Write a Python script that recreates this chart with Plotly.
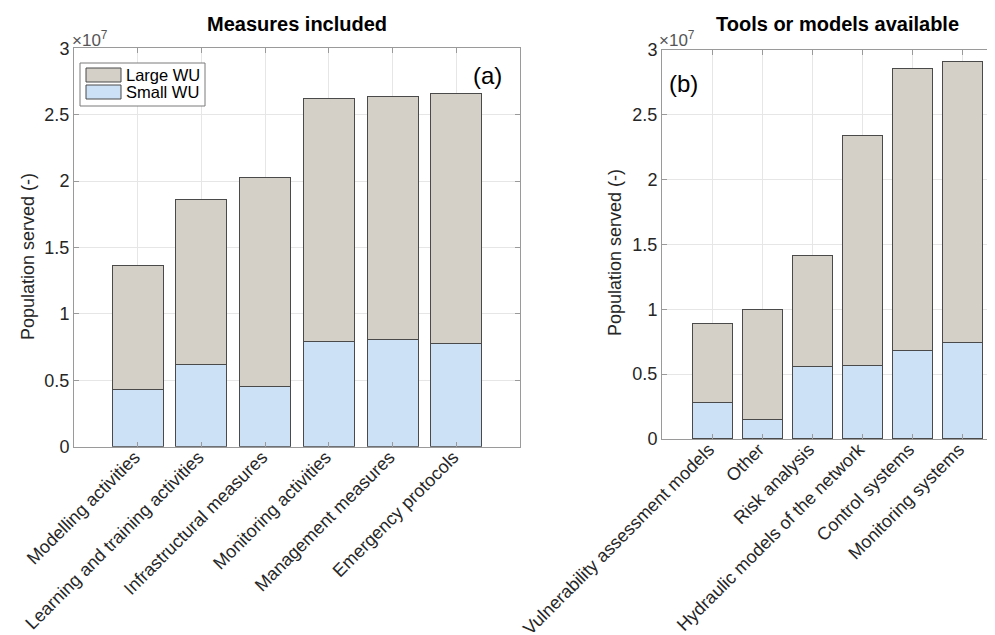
import plotly.graph_objects as go

# ---- data (population served) ----
measures = ["Modelling activities", "Learning and training activities", "Infrastructural measures",
            "Monitoring activities", "Management measures", "Emergency protocols"]
measures_small = [4.34e6, 6.17e6, 4.50e6, 7.90e6, 8.06e6, 7.76e6]
measures_total = [13.66e6, 18.65e6, 20.29e6, 26.20e6, 26.36e6, 26.58e6]

tools = ["Vulnerability assessment models", "Other", "Risk analysis",
         "Hydraulic models of the network", "Control systems", "Monitoring systems"]
tools_small = [2.79e6, 1.52e6, 5.56e6, 5.64e6, 6.82e6, 7.41e6]
tools_total = [8.87e6, 9.95e6, 14.13e6, 23.36e6, 28.54e6, 29.10e6]

ytick_vals = [0, 0.5e7, 1e7, 1.5e7, 2e7, 2.5e7, 3e7]
ytick_text = ["0", "0.5", "1", "1.5", "2", "2.5", "3"]
series_names = ["Large WU", "Small WU"]
y_label = "Population served (-)"

measures_large = [t - s for t, s in zip(measures_total, measures_small)]
tools_large = [t - s for t, s in zip(tools_total, tools_small)]

LARGE_C = "#d4d0c8"
SMALL_C = "#cce0f6"
EDGE = "#4a4a4a"
FONT = "Liberation Sans, Arial, sans-serif"
TXT = "#262626"
FS = 18

W, H = 995, 635
pos = [1, 2, 3, 4, 5, 6]

fig = go.Figure()
for xa, ya, sm, lg in [("x", "y", measures_small, measures_large), ("x2", "y2", tools_small, tools_large)]:
    fig.add_trace(go.Bar(x=pos, y=sm, name=series_names[1], marker=dict(color=SMALL_C, line=dict(color=EDGE, width=1)),
                         width=0.8, xaxis=xa, yaxis=ya, showlegend=False))
    fig.add_trace(go.Bar(x=pos, y=lg, name=series_names[0], marker=dict(color=LARGE_C, line=dict(color=EDGE, width=1)),
                         width=0.8, xaxis=xa, yaxis=ya, showlegend=False))

axcommon = dict(showline=True, linecolor="#9a9a9a", linewidth=1, ticks="inside", ticklen=5,
                tickcolor="#9a9a9a", showgrid=True, gridcolor="#e6e6e6", gridwidth=1,
                zeroline=False, automargin=False, tickfont=dict(family=FONT, size=FS, color=TXT))
xextra = dict(tickangle=-45, mirror="ticks", ticklabelstandoff=-8, ticklabelshift=-3)

# panel geometry in px
L0, L1 = 66, 512
LT, LB = 40.3, 438.7
R0, R1full = 654, 1004
RT, RB = 41.7, 431

fig.update_layout(
    width=W, height=H, margin=dict(l=0, r=0, t=0, b=0, autoexpand=False),
    paper_bgcolor="white", plot_bgcolor="white", barmode="stack", showlegend=False,
    font=dict(family=FONT, color=TXT),
    xaxis=dict(domain=[L0 / W, L1 / W], anchor="y", range=[0, 7], tickvals=pos, ticktext=measures,
               **xextra, **axcommon),
    yaxis=dict(domain=[1 - LB / H, 1 - LT / H], anchor="x", range=[0, 3e7], tickvals=ytick_vals,
               ticktext=ytick_text, mirror="ticks", **axcommon),
    xaxis2=dict(domain=[R0 / W, 1.0], anchor="y2", range=[0, (W - R0) / 50.0], tickvals=pos, ticktext=tools,
                **xextra, **axcommon),
    yaxis2=dict(domain=[1 - RB / H, 1 - RT / H], anchor="x2", range=[0, 3e7], tickvals=ytick_vals,
                ticktext=ytick_text, mirror=False, **axcommon),
)

# custom MATLAB-style legend (paper px positions)
def px(x):
    return x / W

def py(y):
    return 1 - y / H

shapes = [
    dict(type="rect", xref="paper", yref="paper", x0=px(72), x1=px(197), y0=py(98), y1=py(55),
         line=dict(color="#7a7a7a", width=1), fillcolor="white", layer="above"),
    dict(type="rect", xref="paper", yref="paper", x0=px(78), x1=px(113), y0=py(74), y1=py(60),
         line=dict(color=EDGE, width=1), fillcolor=LARGE_C, layer="above"),
    dict(type="rect", xref="paper", yref="paper", x0=px(78), x1=px(113), y0=py(91), y1=py(77),
         line=dict(color=EDGE, width=1), fillcolor=SMALL_C, layer="above"),
]

ann = [
    dict(text=series_names[0], x=px(116), y=py(67), xref="paper", yref="paper", xanchor="left", yanchor="middle",
         showarrow=False, font=dict(family=FONT, size=16.5, color="black")),
    dict(text=series_names[1], x=px(116), y=py(84.5), xref="paper", yref="paper", xanchor="left", yanchor="middle",
         showarrow=False, font=dict(family=FONT, size=16.5, color="black")),
    dict(text="<b>Measures included</b>", x=px((L0 + L1) / 2), y=py(29), xref="paper", yref="paper",
         xanchor="center", yanchor="bottom", showarrow=False, font=dict(family=FONT, size=20, color="black")),
    dict(text="<b>Tools or models available</b>", x=px((R0 + R1full) / 2), y=py(29), xref="paper", yref="paper",
         xanchor="center", yanchor="bottom", showarrow=False, font=dict(family=FONT, size=20, color="black")),
    dict(text="×10<sup>7</sup>", x=px(62), y=py(31), xref="paper", yref="paper",
         xanchor="left", yanchor="middle", showarrow=False, font=dict(family=FONT, size=17, color="#555")),
    dict(text="×10<sup>7</sup>", x=px(649), y=py(31), xref="paper", yref="paper",
         xanchor="left", yanchor="middle", showarrow=False, font=dict(family=FONT, size=17, color="#555")),
    dict(text="(a)", x=px(479), y=py(68), xref="paper", yref="paper",
         xanchor="center", yanchor="middle", showarrow=False, font=dict(family=FONT, size=24, color="black")),
    dict(text="(b)", x=px(675), y=py(75), xref="paper", yref="paper",
         xanchor="center", yanchor="middle", showarrow=False, font=dict(family=FONT, size=24, color="black")),
    dict(text=y_label, x=px(20), y=py(249), xref="paper", yref="paper", textangle=-90,
         xanchor="center", yanchor="middle", showarrow=False, font=dict(family=FONT, size=FS, color=TXT)),
    dict(text=y_label, x=px(607), y=py(245), xref="paper", yref="paper", textangle=-90,
         xanchor="center", yanchor="middle", showarrow=False, font=dict(family=FONT, size=FS, color=TXT)),
]
fig.update_layout(annotations=ann, shapes=shapes)

fig.write_html("out.html")
